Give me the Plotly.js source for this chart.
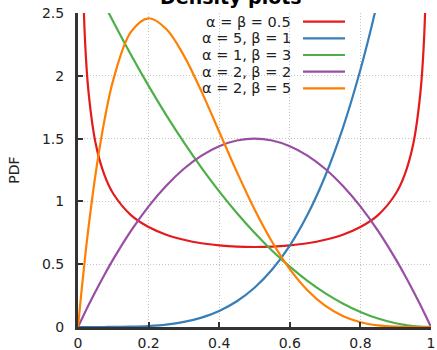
<!DOCTYPE html>
<html>
<head>
<meta charset="utf-8">
<script src="https://cdn.plot.ly/plotly-3.0.1.min.js"></script>
<style>html,body{margin:0;padding:0;background:#fff;}#chart{width:437px;height:350px;}</style>
</head>
<body>
<div id="chart"></div>
<script>
const x = [0, 0.01, 0.02, 0.03, 0.05, 0.075, 0.1, 0.15, 0.2, 0.25, 0.3, 0.35, 0.4, 0.45, 0.5, 0.55, 0.6, 0.65, 0.7, 0.75, 0.8, 0.85, 0.9, 0.925, 0.95, 0.97, 0.98, 0.99, 1];
const red = [null, 3.199, 2.274, 1.866, 1.461, 1.209, 1.061, 0.891, 0.796, 0.735, 0.695, 0.667, 0.650, 0.640, 0.637, 0.640, 0.650, 0.667, 0.695, 0.735, 0.796, 0.891, 1.061, 1.209, 1.461, 1.866, 2.274, 3.199, null];
const blue = [0, 0, 0, 0, 0.00003, 0.00016, 0.0005, 0.0025, 0.008, 0.0195, 0.0405, 0.075, 0.128, 0.205, 0.3125, 0.4575, 0.648, 0.893, 1.2005, 1.582, 2.048, 2.610, 3.2805, 3.66, 4.07, 4.43, 4.61, 4.80, 5];
const green = [3, 2.940, 2.881, 2.823, 2.7075, 2.567, 2.43, 2.1675, 1.92, 1.6875, 1.47, 1.2675, 1.08, 0.9075, 0.75, 0.6075, 0.48, 0.3675, 0.27, 0.1875, 0.12, 0.0675, 0.03, 0.0169, 0.0075, 0.0027, 0.0012, 0.0003, 0];
const purple = [0, 0.0594, 0.1176, 0.1746, 0.285, 0.416, 0.54, 0.765, 0.96, 1.125, 1.26, 1.365, 1.44, 1.485, 1.5, 1.485, 1.44, 1.365, 1.26, 1.125, 0.96, 0.765, 0.54, 0.416, 0.285, 0.1746, 0.1176, 0.0594, 0];
const orange = [0, 0.288, 0.554, 0.797, 1.222, 1.647, 1.968, 2.349, 2.458, 2.373, 2.161, 1.874, 1.555, 1.235, 0.9375, 0.677, 0.461, 0.293, 0.170, 0.088, 0.038, 0.013, 0.0027, 0.0009, 0.0002, 0, 0, 0, 0];

const names = ["α = β = 0.5", "α = 5, β = 1", "α = 1, β = 3", "α = 2, β = 2", "α = 2, β = 5"];
const colors = ["#e41a1c", "#377eb8", "#4daf4a", "#984ea3", "#ff7f00"];
const series = [red, blue, green, purple, orange];

const xTicks = [0, 0.2, 0.4, 0.6, 0.8, 1];
const xTickText = ["0", "0.2", "0.4", "0.6", "0.8", "1"];
const yTicks = [0, 0.5, 1, 1.5, 2, 2.5];
const yTickText = ["0", "0.5", "1", "1.5", "2", "2.5"];

const W = 437, H = 350;
const M = {l: 78, r: 6, t: 13, b: 23};
const pw = W - M.l - M.r, ph = H - M.t - M.b;
const font = "DejaVu Sans, sans-serif";

const traces = series.map((y, i) => ({
  x: x, y: y, type: "scatter", mode: "lines", name: names[i],
  line: {color: colors[i], width: 2.2, shape: "spline", smoothing: 1},
  showlegend: false, hoverinfo: "skip"
}));

const annotations = [{
  text: "<b>Density plots</b>", xref: "paper", yref: "paper",
  x: (231 - M.l) / pw, y: 1, yanchor: "bottom", yshift: 3, xanchor: "center",
  showarrow: false, font: {family: font, size: 19, color: "#000"}
}];
const shapes = [];
const legRight = (293 - M.l) / pw;
const lineX0 = (303 - M.l) / pw, lineX1 = (345 - M.l) / pw;
names.forEach((n, i) => {
  const py = 21.7 + i * 16.65;
  const yp = (M.t + ph - py) / ph;
  annotations.push({
    text: n, xref: "paper", yref: "paper", x: legRight, y: yp,
    xanchor: "right", yanchor: "middle", showarrow: false,
    font: {family: font, size: 14.5, color: "#222"}
  });
  shapes.push({
    type: "line", xref: "paper", yref: "paper", x0: lineX0, x1: lineX1, y0: yp, y1: yp,
    line: {color: colors[i], width: 2.2}
  });
});

const axisCommon = {
  showline: true, linecolor: "#333", linewidth: 3,
  ticks: "inside", ticklen: 5, tickwidth: 2, tickcolor: "#333",
  showgrid: true, gridcolor: "#c4c4c4", griddash: "1px,2px", gridwidth: 1,
  zeroline: false, tickfont: {family: font, size: 14, color: "#222"}, fixedrange: true
};

const layout = {
  width: W, height: H,
  margin: M,
  paper_bgcolor: "#fff", plot_bgcolor: "#fff",
  font: {family: font, color: "#222"},
  xaxis: Object.assign({}, axisCommon, {
    range: [0, 1], tickmode: "array", tickvals: xTicks, ticktext: xTickText,
    ticklabelstandoff: 1
  }),
  yaxis: Object.assign({}, axisCommon, {
    range: [0, 2.5], tickmode: "array", tickvals: yTicks, ticktext: yTickText,
    ticklabelstandoff: 8,
    title: {text: "PDF", font: {family: font, size: 14, color: "#222"}, standoff: 20}
  }),
  annotations: annotations,
  shapes: shapes,
  showlegend: false
};

Plotly.newPlot("chart", traces, layout, {displayModeBar: false, staticPlot: true});
</script>
</body>
</html>
